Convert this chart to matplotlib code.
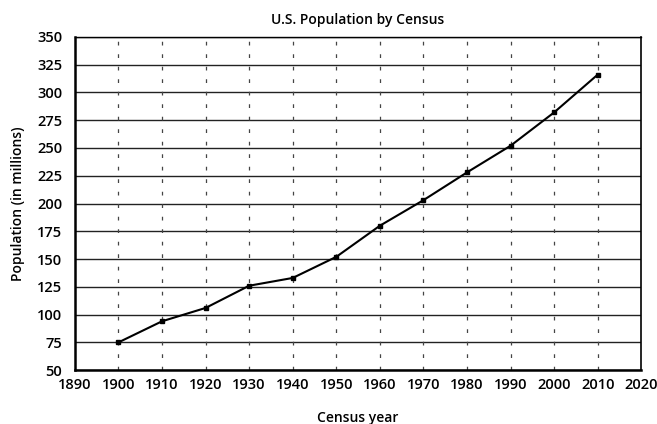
import matplotlib
matplotlib.use("Agg")
import matplotlib.pyplot as plt

years = [1900, 1910, 1920, 1930, 1940, 1950, 1960, 1970, 1980, 1990, 2000, 2010]
population = [75, 94, 106, 126, 133, 152, 180, 203, 228, 252, 282, 316]
x_ticks = list(range(1890, 2021, 10))
y_ticks = list(range(50, 351, 25))

plt.rcParams['font.family'] = ['Open Sans', 'DejaVu Sans']

fig = plt.figure(figsize=(6.57, 4.24), dpi=100)
ax = fig.add_axes([0.114, 0.127, 0.862, 0.786])

ax.set_xlim(1890, 2020)
ax.set_ylim(50, 350)
ax.set_xticks(x_ticks)
ax.set_yticks(y_ticks)
ax.tick_params(axis='x', length=0, labelsize=10.5, pad=6)
ax.tick_params(axis='y', length=0, labelsize=10.5, pad=9)
for lbl in ax.get_xticklabels() + ax.get_yticklabels():
    lbl.set_fontweight('semibold')

for y in y_ticks:
    ax.axhline(y, color='#222222', lw=1.0, zorder=1)
for x in x_ticks[1:-1]:
    ax.axvline(x, color='#444444', lw=0.9, ls=(0, (3, 7)), zorder=1)

ax.plot(years, population, color='black', lw=1.5, marker='s', markersize=3.5, zorder=3)

for side in ['left', 'bottom']:
    ax.spines[side].set_linewidth(1.8)
ax.spines['right'].set_linewidth(1.2)
ax.spines['top'].set_linewidth(1.0)

ax.set_title('U.S. Population by Census', fontsize=10, fontweight='semibold', pad=9)
ax.set_xlabel('Census year', fontsize=10, fontweight='semibold', labelpad=13)
ax.set_ylabel('Population (in millions)', fontsize=10, fontweight='semibold', labelpad=9)

fig.savefig('out.png', dpi=100)
